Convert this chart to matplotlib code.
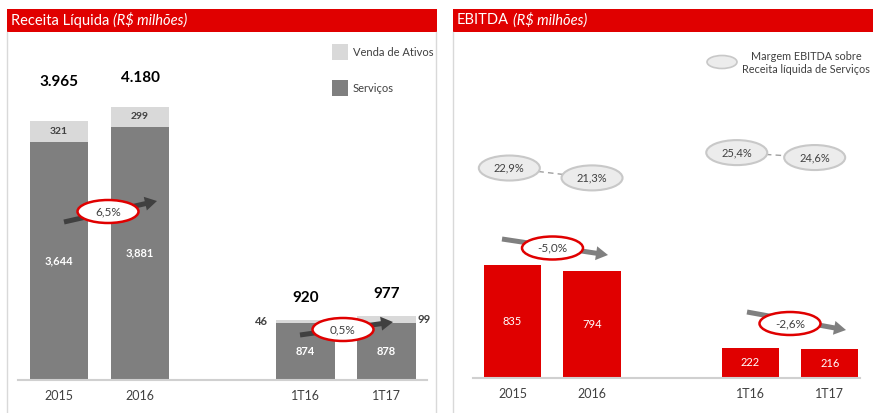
import matplotlib.pyplot as plt
from matplotlib.patches import Rectangle, Ellipse, FancyArrow

plt.rcParams['font.family'] = ['Lato', 'DejaVu Sans']

# data
periods = ['2015', '2016', '1T16', '1T17']
servicos = [3644, 3881, 874, 878]
venda_ativos = [321, 299, 46, 99]
ebitda = [835, 794, 222, 216]
margem = [22.9, 21.3, 25.4, 24.6]
receita_growth = ['6,5%', '0,5%']
ebitda_growth = ['-5,0%', '-2,6%']

RED = '#e00000'
DARK = '#7f7f7f'
LIGHT = '#d9d9d9'
TXT = '#404040'

W, H = 873, 413
fig = plt.figure(figsize=(W / 100, H / 100), dpi=100)


def px_axes(l, t, w, h):
    return fig.add_axes([l / W, 1 - (t + h) / H, w / W, h / H])


def style_bar_axes(ax, pos):
    for s in ['top', 'right', 'left']:
        ax.spines[s].set_visible(False)
    ax.spines['bottom'].set_color('#d0d0d0')
    ax.spines['bottom'].set_linewidth(1.5)
    ax.set_yticks([])
    ax.set_xticks(pos)
    ax.set_xticklabels(periods)
    ax.tick_params(axis='x', length=0, pad=7, labelsize=9, labelcolor=TXT)
    ax.patch.set_visible(False)


# ---------------- Receita Liquida ----------------
pos_l = [0, 1, 3.04, 4.04]
bw = 0.72
ax_l = px_axes(18, 40, 409, 340)
ax_l.set_xlim(-0.506, 4.54)
ax_l.set_ylim(0, 5207)
ax_l.bar(pos_l, servicos, bw, color=DARK)
ax_l.bar(pos_l, venda_ativos, bw, bottom=servicos, color=LIGHT)
style_bar_axes(ax_l, pos_l)

totals = [s + v for s, v in zip(servicos, venda_ativos)]
total_pad = [600, 445, 335, 340]
for i, (x, s, v, t) in enumerate(zip(pos_l, servicos, venda_ativos, totals)):
    ax_l.text(x, s / 2, f'{s:,}', ha='center', va='center', color='white',
              fontsize=8, fontweight='bold')
    ax_l.text(x, t + total_pad[i], f'{t:,}'.replace(',', '.'), ha='center',
              va='center', color='black', fontsize=11, fontweight='bold')
    if i < 2:
        ax_l.text(x, s + v / 2, str(v), ha='center', va='center', color=TXT,
                  fontsize=7.5, fontweight='bold')
    elif i == 2:
        ax_l.annotate(str(v), (x - bw / 2, s + v / 2), xytext=(-6, 0),
                      textcoords='offset points', ha='right', va='center',
                      color=TXT, fontsize=8, fontweight='bold')
    else:
        ax_l.annotate(str(v), (x + bw / 2, s + v / 2), xytext=(1, 0),
                      textcoords='offset points', ha='left', va='center',
                      color=TXT, fontsize=8, fontweight='bold')

# ---------------- EBITDA ----------------
pos_r = [0, 1, 2.99, 3.99]
ax_r = px_axes(473, 40, 387, 338)
ax_r.set_xlim(-0.497, 4.37)
ax_r.set_ylim(0, 2498)
ax_r.bar(pos_r, ebitda, bw, color=RED)
style_bar_axes(ax_r, pos_r)
for x, v in zip(pos_r, ebitda):
    ax_r.text(x, v / 2, str(v), ha='center', va='center', color='white', fontsize=8)

ax_m = ax_r.twinx()
ax_m.set_ylim(-11.13, 43.65)
ax_m.axis('off')
margin_shift = [-0.04, 0.0, -0.17, -0.19]
mx = [p + d for p, d in zip(pos_r, margin_shift)]
for a, b in [(0, 2), (2, 4)]:
    ax_m.plot(mx[a:b], margem[a:b], ls=(0, (4, 3)), color='#a0a0a0', lw=1)

# ---------------- overlay (pixel coordinates) ----------------
ov = fig.add_axes([0, 0, 1, 1])
ov.set_xlim(0, W)
ov.set_ylim(H, 0)
ov.axis('off')
ov.patch.set_visible(False)
ov.set_zorder(10)
to_ov = ov.transData.inverted()

# headers and panel borders
renderer = fig.canvas.get_renderer()
for x0, x1, title in [(7, 437, 'Receita Líquida'), (453, 873, 'EBITDA')]:
    ov.add_patch(Rectangle((x0, 9), x1 - x0, 23, color=RED, lw=0))
    t1 = ov.text(x0 + 4, 20.5, title, color='white', fontsize=10.5, va='center')
    bb = t1.get_window_extent(renderer)
    xr = to_ov.transform((bb.x1, 0))[0]
    ov.text(xr + 4, 20.5, '(R$ milhões)', color='white', fontsize=10.5,
            va='center', style='italic')
for x in [7, 436, 453]:
    ov.plot([x, x], [32, H], color='#d9d9d9', lw=1)

# left legend
for y, c, lab in [(44, LIGHT, 'Venda de Ativos'), (80, DARK, 'Serviços')]:
    ov.add_patch(Rectangle((332, y), 16, 16, color=c, lw=0))
    ov.text(353, y + 8, lab, color=TXT, fontsize=8, va='center')

# right legend
ov.add_patch(Ellipse((722, 62), 30, 13, fc='#ececec', ec='#c8c8c8', lw=1.2))
ov.text(806, 63, 'Margem EBITDA sobre\nReceita líquida de Serviços', color=TXT,
        fontsize=7.8, ha='center', va='center', linespacing=1.3)

# margin ellipses placed via the twin axis scale
for x, v in zip(mx, margem):
    cx, cy = to_ov.transform(ax_m.transData.transform((x, v)))
    ov.add_patch(Ellipse((cx, cy), 61, 25, fc='#ececec', ec='#c8c8c8', lw=1.5))
    ov.text(cx, cy, f'{v:.1f}%'.replace('.', ','), ha='center', va='center',
            color=TXT, fontsize=8)

# growth arrows
growth = [
    (receita_growth[0], (64, 222), (157, 201), (108, 211.5), '#404040'),
    (receita_growth[1], (300, 335), (393, 322), (343, 329.5), '#404040'),
    (ebitda_growth[0], (502, 239), (608, 255), (552.5, 248), '#808080'),
    (ebitda_growth[1], (747, 312), (846, 330), (790, 323.5), '#808080'),
]
for lab, (x0, y0), (x1, y1), (ex, ey), col in growth:
    ov.add_patch(FancyArrow(x0, y0, x1 - x0, y1 - y0, width=5, head_width=14,
                            head_length=12, length_includes_head=True,
                            color=col, lw=0))
    ov.add_patch(Ellipse((ex, ey), 61, 23, fc='white', ec=RED, lw=1.8))
    ov.text(ex, ey, lab, ha='center', va='center', color=TXT, fontsize=8.5)

fig.savefig('out.png', dpi=100)
